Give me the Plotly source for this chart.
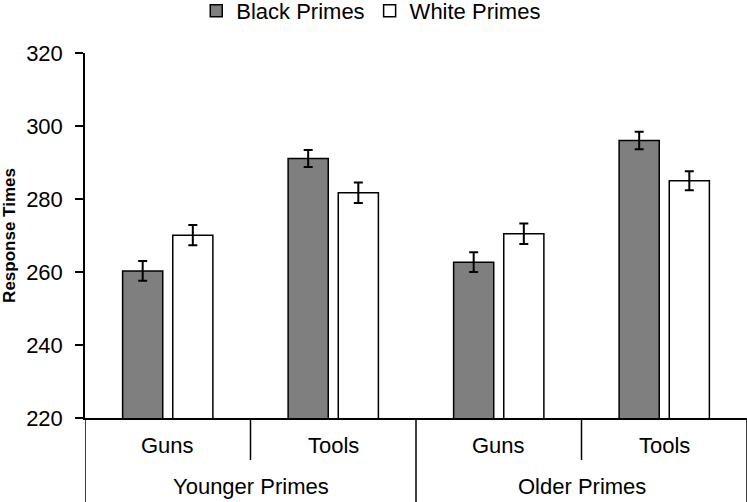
import plotly.graph_objects as go

# data
groups = ["Younger Primes", "Older Primes"]
targets = ["Guns", "Tools"]
black_primes = [260.3, 291.1, 262.7, 296.0]
white_primes = [270.1, 281.7, 270.5, 285.0]
black_err = [2.7, 2.3, 2.7, 2.4]
white_err = [2.8, 2.8, 2.8, 2.6]

cats = [g + " " + t for g in groups for t in targets]
font = "Liberation Sans, Arial, sans-serif"

fig = go.Figure()
fig.add_trace(go.Bar(
    x=cats, y=black_primes, name="Black Primes",
    marker=dict(color="#7f7f7f", line=dict(color="black", width=1.5)),
    error_y=dict(type="data", array=black_err, color="black", thickness=2, width=4.5),
))
fig.add_trace(go.Bar(
    x=cats, y=white_primes, name="White Primes",
    marker=dict(color="white", line=dict(color="black", width=1.5)),
    error_y=dict(type="data", array=white_err, color="black", thickness=2, width=4.5),
))

# bottom of the page in paper units (plot bottom at 418px, height 365px)
y_bottom = -84 / 365
y_short = -42 / 365

shapes = []
# divider lines under the axis
for i in range(len(cats) + 1):
    x0 = i - 0.5
    y1 = y_bottom if i % 2 == 0 else y_short
    shapes.append(dict(type="line", xref="x", yref="paper", x0=x0, x1=x0,
                       y0=0, y1=y1, line=dict(color="black", width=1.5)))

annotations = []
for i, c in enumerate(cats):
    annotations.append(dict(x=i, y=-27 / 365, xref="x", yref="paper",
                            text=targets[i % 2], showarrow=False,
                            font=dict(size=22, color="black"), yanchor="middle"))
for j, g in enumerate(groups):
    annotations.append(dict(x=2 * j + 0.5, y=-68 / 365, xref="x", yref="paper",
                            text=g, showarrow=False,
                            font=dict(size=22, color="black"), yanchor="middle"))

fig.update_layout(
    width=747, height=502,
    margin=dict(l=85, r=0, t=53, b=84, autoexpand=False),
    paper_bgcolor="white", plot_bgcolor="white",
    font=dict(family=font, size=21, color="black"),
    barmode="group", bargap=0.394, bargroupgap=0.2,
    showlegend=True,
    legend=dict(orientation="h", xref="container", x=0.497, xanchor="center",
                yref="container", y=1 - 11 / 502, yanchor="middle",
                font=dict(size=22), itemwidth=30),
    shapes=shapes, annotations=annotations,
)
fig.update_xaxes(type="category", range=[-0.5, 3.5], showticklabels=False,
                 showline=True, linecolor="black", linewidth=1.5, ticks="",
                 showgrid=False, zeroline=False, automargin=False)
fig.update_yaxes(range=[220, 320], tickvals=[220, 240, 260, 280, 300, 320],
                 ticks="outside", ticklen=8, tickcolor="black", tickwidth=1.5,
                 ticklabelstandoff=8,
                 showline=True, linecolor="black", linewidth=1.5,
                 showgrid=False, zeroline=False, automargin=False,
                 title=dict(text="<b>Response Times</b>", font=dict(size=17), standoff=6),
                 tickfont=dict(size=22))

# the page body has a default 8px margin; drop it so the figure fills the window
fig.write_html("out.html", config={"displayModeBar": False},
               post_script="document.body.style.margin = '0';")
